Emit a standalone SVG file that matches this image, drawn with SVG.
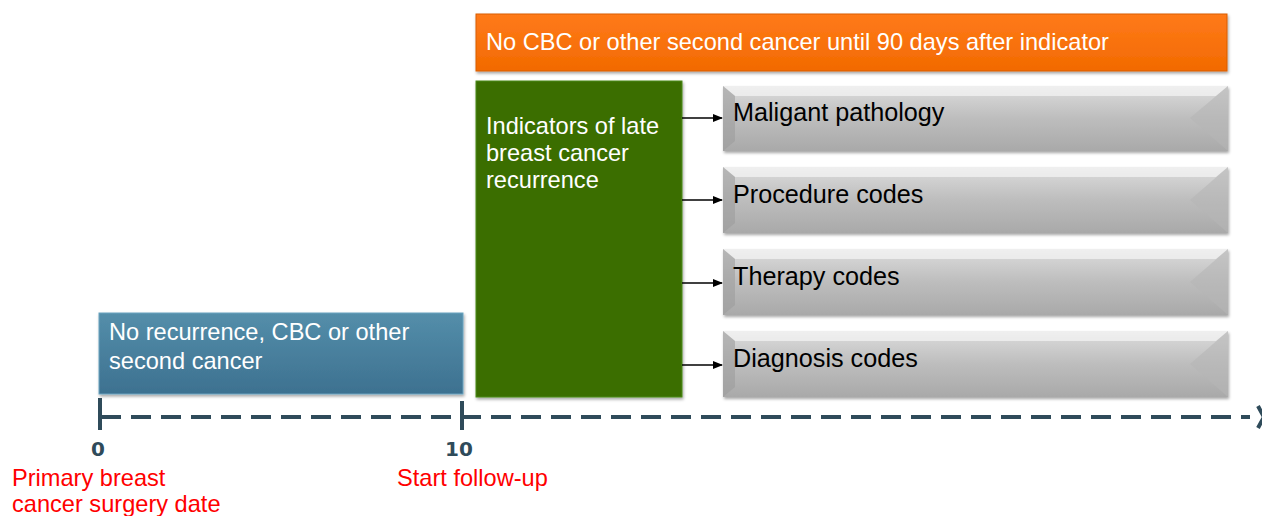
<svg xmlns="http://www.w3.org/2000/svg" width="1262" height="516" viewBox="0 0 1262 516">
<style>
.t{font-family:"Liberation Sans",Arial,sans-serif;font-size:23.6px}
.w{fill:#ffffff}
.k{fill:#000000;font-size:25.2px}
.r{fill:#ff0000}
.ax{font-family:"DejaVu Sans",sans-serif;font-weight:bold;font-size:20px;fill:#2f4b5a}
.conn{stroke:#000;stroke-width:1.3;fill:none}
</style>
<defs>
<linearGradient id="gr" x1="0" y1="0" x2="0" y2="1">
<stop offset="0" stop-color="#dcdcdc"/>
<stop offset="0.5" stop-color="#bdbdbd"/>
<stop offset="1" stop-color="#a9a9a9"/>
</linearGradient>
<linearGradient id="or" x1="0" y1="0" x2="0" y2="1">
<stop offset="0" stop-color="#ff7a1a"/>
<stop offset="1" stop-color="#f26a00"/>
</linearGradient>
<linearGradient id="bl" x1="0" y1="0" x2="0" y2="1">
<stop offset="0" stop-color="#548eaa"/>
<stop offset="1" stop-color="#3d7190"/>
</linearGradient>
<filter id="sh" x="-5%" y="-10%" width="110%" height="130%">
<feDropShadow dx="1" dy="2" stdDeviation="1.5" flood-color="#000" flood-opacity="0.35"/>
</filter>
<marker id="ah" markerWidth="10" markerHeight="8" refX="9" refY="4" orient="auto" markerUnits="userSpaceOnUse">
<path d="M0,0 L10,4 L0,8 z" fill="#000"/>
</marker>
</defs>

<g id="node-orange">
<rect x="476" y="14" width="751" height="57" fill="url(#or)" stroke="#d95f00" stroke-width="1" filter="url(#sh)"/>
<text class="t w" x="486" y="50">No CBC or other second cancer until 90 days after indicator</text>
</g>

<g id="node-green">
<rect x="476" y="81" width="206" height="316" fill="#3a6e06" stroke="#4d8a18" stroke-width="1" filter="url(#sh)"/>
<text class="t w" x="486" y="134">Indicators of late</text>
<text class="t w" x="486" y="161">breast cancer</text>
<text class="t w" x="486" y="188">recurrence</text>
</g>

<g id="node-blue">
<rect x="99" y="313" width="364" height="81" fill="url(#bl)" stroke="#6aa3bf" stroke-width="1" filter="url(#sh)"/>
<text class="t w" x="109" y="340">No recurrence, CBC or other</text>
<text class="t w" x="109" y="369">second cancer</text>
</g>

<g id="node-mal">
<rect x="723" y="86" width="505" height="65" fill="url(#gr)" filter="url(#sh)"/>
<polygon points="723,86 1228,86 1216,96 735,96" fill="#ffffff" opacity="0.55"/>
<polygon points="1228,86 1228,151 1190,118" fill="#b5b5b5" opacity="0.6"/>
<polygon points="723,86 735,96 735,141 723,151" fill="#9d9d9d" opacity="0.6"/>
<text class="t k" x="733" y="121">Maligant pathology</text>
</g>

<g id="node-proc">
<rect x="723" y="167" width="505" height="66" fill="url(#gr)" filter="url(#sh)"/>
<polygon points="723,167 1228,167 1216,177 735,177" fill="#ffffff" opacity="0.55"/>
<polygon points="1228,167 1228,233 1190,200" fill="#b5b5b5" opacity="0.6"/>
<polygon points="723,167 735,177 735,223 723,233" fill="#9d9d9d" opacity="0.6"/>
<text class="t k" x="733" y="203">Procedure codes</text>
</g>

<g id="node-ther">
<rect x="723" y="249" width="505" height="66" fill="url(#gr)" filter="url(#sh)"/>
<polygon points="723,249 1228,249 1216,259 735,259" fill="#ffffff" opacity="0.55"/>
<polygon points="1228,249 1228,315 1190,282" fill="#b5b5b5" opacity="0.6"/>
<polygon points="723,249 735,259 735,305 723,315" fill="#9d9d9d" opacity="0.6"/>
<text class="t k" x="733" y="285">Therapy codes</text>
</g>

<g id="node-diag">
<rect x="723" y="331" width="505" height="66" fill="url(#gr)" filter="url(#sh)"/>
<polygon points="723,331 1228,331 1216,341 735,341" fill="#ffffff" opacity="0.55"/>
<polygon points="1228,331 1228,397 1190,364" fill="#b5b5b5" opacity="0.6"/>
<polygon points="723,331 735,341 735,387 723,397" fill="#9d9d9d" opacity="0.6"/>
<text class="t k" x="733" y="367">Diagnosis codes</text>
</g>

<g id="connectors">
<line class="conn" x1="682" y1="118" x2="722" y2="118" marker-end="url(#ah)"/>
<line class="conn" x1="682" y1="200" x2="722" y2="200" marker-end="url(#ah)"/>
<line class="conn" x1="682" y1="283" x2="722" y2="283" marker-end="url(#ah)"/>
<line class="conn" x1="682" y1="365" x2="722" y2="365" marker-end="url(#ah)"/>
</g>

<g id="axis">
<line x1="101" y1="417" x2="1250" y2="417" stroke="#2f4b5a" stroke-width="4" stroke-dasharray="20,10"/>
<line x1="100" y1="398" x2="100" y2="430" stroke="#2f4b5a" stroke-width="4"/>
<line x1="462" y1="401" x2="462" y2="430" stroke="#2f4b5a" stroke-width="4"/>
<path d="M1258,406 L1264,417 L1258,428" stroke="#2f4b5a" stroke-width="4" fill="none"/>
<text class="ax" x="98" y="456" text-anchor="middle">0</text>
<text class="ax" x="459" y="456" text-anchor="middle">10</text>
<text class="t r" x="12" y="486">Primary breast</text>
<text class="t r" x="12" y="512">cancer surgery date</text>
<text class="t r" x="397" y="486">Start follow-up</text>
</g>
</svg>
